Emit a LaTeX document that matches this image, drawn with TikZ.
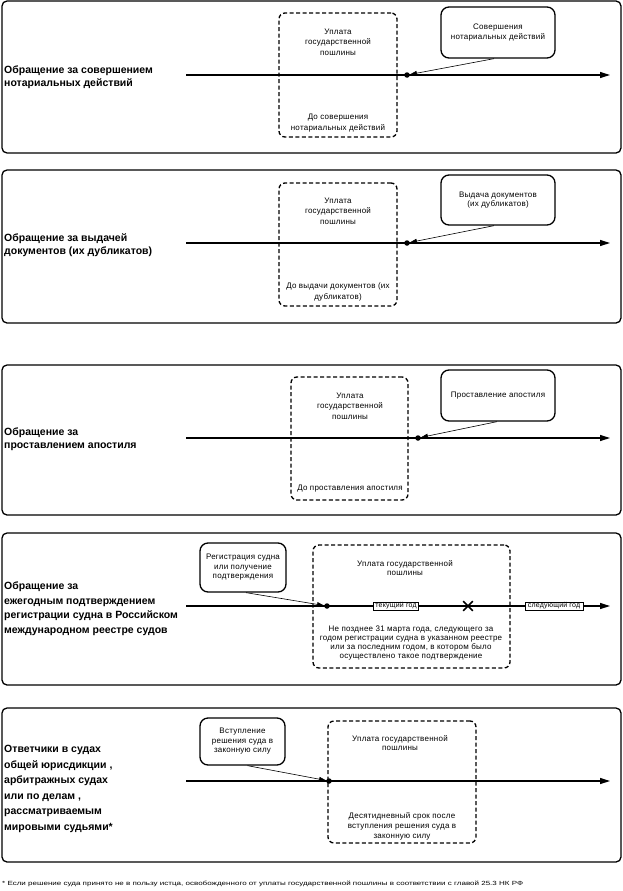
\documentclass[tikz,border=0pt]{standalone}
\usepackage{fontspec}
\usepackage{graphicx}
\setmainfont{Liberation Sans}
\newfontfamily\smfont[LetterSpace=3]{Liberation Sans}
\usetikzlibrary{arrows.meta,shapes.misc,calc}
\begin{document}
\begin{tikzpicture}[x=1pt,y=-1pt,
  panel/.style={draw, line width=1.3pt, rounded corners=5pt, inner sep=0},
  paybox/.style={draw, line width=1.3pt, dash pattern=on 4pt off 2.5pt, rounded corners=6pt, inner sep=0},
  callout/.style={draw, line width=1.3pt, rounded corners=8pt, fill=white, inner sep=0, align=center, font=\smfont\fontsize{8}{9.5}\selectfont},
  tl/.style={line width=1.3pt, -{Triangle[length=10pt,width=6pt]}},
  conn/.style={line width=0.6pt, -{Triangle[length=7pt,width=4.5pt]}},
  lbl/.style={font=\bfseries\fontsize{10.5}{13}\selectfont, align=left, anchor=west, inner sep=0},
  small/.style={font=\smfont\fontsize{8}{10.5}\selectfont, align=center, inner sep=0},
  dot/.style={circle, fill, inner sep=0, minimum size=5.5pt},
  yearbox/.style={draw, fill=white, line width=0.8pt, inner sep=0, font=\smfont\fontsize{7}{7}\selectfont},
]
\useasboundingbox (0,0) rectangle (623,891);

% ---------- Panel 1 ----------
\node[panel, minimum width=619pt, minimum height=152pt] (p1) at (311.5,77) {};
\node[lbl] (l1) at (4,77.5) {Обращение за совершением\\нотариальных действий};
\node[paybox, minimum width=118pt, minimum height=124pt] (b1) at (338,75) {};
\node[small] (b1t) at (338,42) {Уплата\\государственной\\пошлины};
\node[small] (b1b) at (338,123) {До совершения\\нотариальных действий};
\node[callout, minimum width=114pt, minimum height=51pt] (c1) at (498,32.5) {Совершения\\нотариальных действий};
\coordinate (s1) at (186,75);
\coordinate (e1) at (610,75);
\draw[tl] (s1) -- (e1);
\node[dot] (d1) at (407,75) {};
\draw[conn] ($(c1.south)+(-4,0)$) -- (d1);

% ---------- Panel 2 ----------
\node[panel, minimum width=619pt, minimum height=153pt] (p2) at (311.5,246.5) {};
\node[lbl] (l2) at (4,245) {Обращение за выдачей\\документов (их дубликатов)};
\node[paybox, minimum width=118pt, minimum height=123pt] (b2) at (338,244.5) {};
\node[small] (b2t) at (338,211) {Уплата\\государственной\\пошлины};
\node[small] (b2b) at (338,292) {До выдачи документов (их\\дубликатов)};
\node[callout, minimum width=114pt, minimum height=50pt] (c2) at (498,200) {Выдача документов\\(их дубликатов)};
\coordinate (s2) at (186,243);
\coordinate (e2) at (610,243);
\draw[tl] (s2) -- (e2);
\node[dot] (d2) at (407,243) {};
\draw[conn] ($(c2.south)+(-4,0)$) -- (d2);

% ---------- Panel 3 ----------
\node[panel, minimum width=619pt, minimum height=150pt] (p3) at (311.5,440) {};
\node[lbl] (l3) at (4,439.5) {Обращение за\\проставлением апостиля};
\node[paybox, minimum width=117pt, minimum height=123pt] (b3) at (349.5,438.5) {};
\node[small] (b3t) at (350,406) {Уплата\\государственной\\пошлины};
\node[small] (b3b) at (350,489) {До проставления апостиля};
\node[callout, minimum width=114pt, minimum height=51pt] (c3) at (498,395.5) {Проставление апостиля};
\coordinate (s3) at (186,438);
\coordinate (e3) at (610,438);
\draw[tl] (s3) -- (e3);
\node[dot] (d3) at (418,438) {};
\draw[conn] ($(c3.south)+(-1,0)$) -- (d3);

% ---------- Panel 4 ----------
\node[panel, minimum width=619pt, minimum height=152pt] (p4) at (311.5,609) {};
\node[lbl, font=\bfseries\fontsize{10.5}{14.5}\selectfont] (l4) at (4,608.5) {Обращение за\\ежегодным подтверждением\\регистрации судна в Российском\\международном реестре судов};
\node[paybox, minimum width=197pt, minimum height=123pt] (b4) at (411.5,606.5) {};
\node[small, font=\smfont\fontsize{8}{9.5}\selectfont] (b4t) at (405,568) {Уплата государственной\\пошлины};
\node[small, font=\smfont\fontsize{8}{9}\selectfont] (b4b) at (411,643.5) {Не позднее 31 марта  года, следующего за\\годом регистрации судна в указанном реестре\\или за последним годом, в котором было\\осуществлено такое подтверждение};
\node[callout, minimum width=86pt, minimum height=49pt] (c4) at (243,567.5) {Регистрация судна\\или получение\\подтверждения};
\coordinate (s4) at (186,606);
\coordinate (e4) at (610,606);
\draw[tl] (s4) -- (e4);
\node[yearbox, minimum width=45pt, minimum height=8pt] (y1) at (396,606) {текущий год};
\node[yearbox, minimum width=58pt, minimum height=8pt] (y2) at (554,606) {следующий год};
\node[cross out, draw, line width=1.6pt, minimum size=8pt, inner sep=0] (x4) at (468,606) {};
\node[dot] (d4) at (327,606) {};
\draw[conn] ($(c4.south)+(3,0)$) -- (d4);

% ---------- Panel 5 ----------
\node[panel, minimum width=619pt, minimum height=154pt] (p5) at (311.5,785) {};
\node[lbl, font=\bfseries\fontsize{10.5}{15.6}\selectfont] (l5) at (4,789) {Ответчики в судах\\общей юрисдикции ,\\арбитражных судах\\или по делам ,\\рассматриваемым\\мировыми судьями*};
\node[paybox, minimum width=148pt, minimum height=122pt] (b5) at (402,782) {};
\node[small, font=\smfont\fontsize{8}{9.5}\selectfont] (b5t) at (400,743) {Уплата государственной\\пошлины};
\node[small, font=\smfont\fontsize{8}{10}\selectfont] (b5b) at (402,826) {Десятидневный срок после\\вступления решения суда в\\законную силу};
\node[callout, minimum width=85pt, minimum height=47pt] (c5) at (242.5,741.5) {Вступление\\решения суда в\\законную силу};
\coordinate (s5) at (186,781);
\coordinate (e5) at (610,781);
\draw[tl] (s5) -- (e5);
\node[dot] (d5) at (329,781) {};
\draw[conn] ($(c5.south)+(5,0)$) -- (d5);

% ---------- Footnote ----------
\node[anchor=west, inner sep=0] (fn) at (2,884) {\resizebox{521pt}{\height}{\fontsize{6}{7}\selectfont * Если решение суда принято не в пользу истца, освобожденного от уплаты государственной пошлины в соответствии с главой 25.3 НК РФ}};
\end{tikzpicture}
\end{document}
